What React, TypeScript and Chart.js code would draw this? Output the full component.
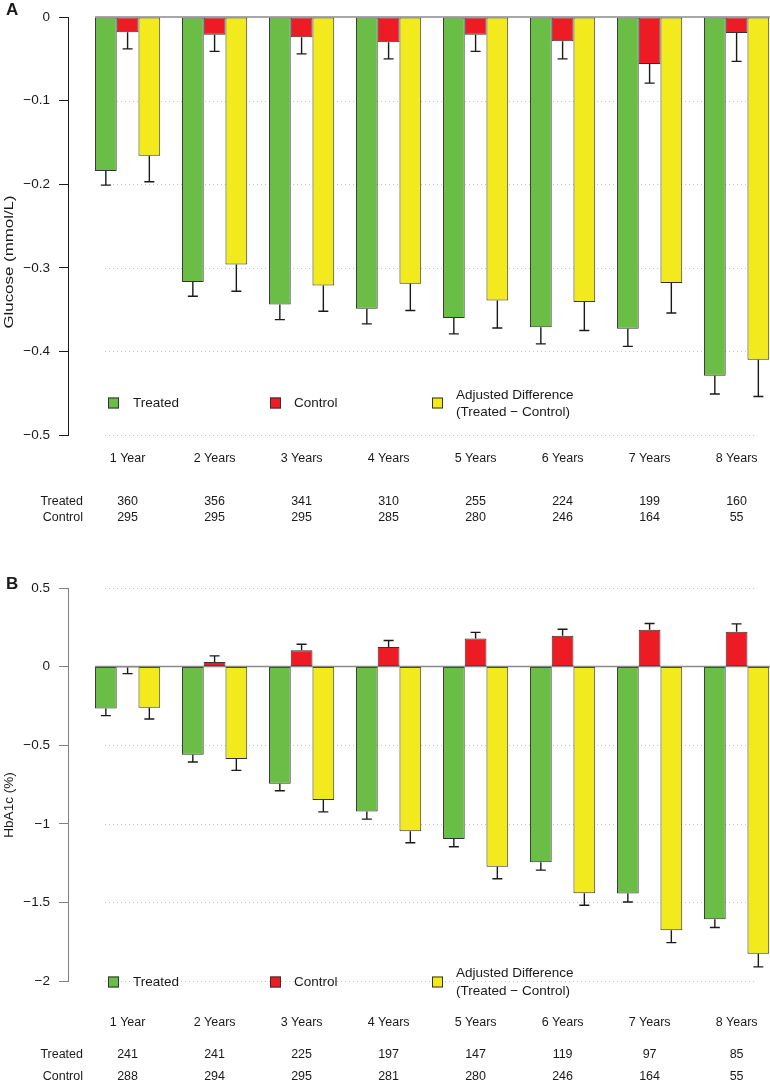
import React, { useEffect, useRef } from "react";
import { Chart, registerables } from "chart.js";

Chart.register(...registerables);

// ---------- data ----------
const categories = ["1 Year", "2 Years", "3 Years", "4 Years", "5 Years", "6 Years", "7 Years", "8 Years"];
const seriesNames = ["Treated", "Control", "Adjusted Difference", "(Treated \u2212 Control)"];

// Panel A: Glucose (mmol/L)
const glucoseTreated = [-0.184, -0.317, -0.344, -0.349, -0.36, -0.371, -0.373, -0.429];
const glucoseTreatedErr = [0.017, 0.017, 0.018, 0.018, 0.019, 0.02, 0.021, 0.022];
const glucoseControl = [-0.018, -0.021, -0.024, -0.03, -0.021, -0.029, -0.056, -0.019];
const glucoseControlErr = [0.02, 0.02, 0.02, 0.02, 0.02, 0.021, 0.023, 0.034];
const glucoseAdjusted = [-0.166, -0.296, -0.321, -0.319, -0.339, -0.341, -0.318, -0.41];
const glucoseAdjustedErr = [0.031, 0.032, 0.031, 0.032, 0.033, 0.034, 0.036, 0.044];
const glucoseTreatedN = [360, 356, 341, 310, 255, 224, 199, 160];
const glucoseControlN = [295, 295, 295, 285, 280, 246, 164, 55];
const glucoseGrid = [-0.1, -0.2, -0.3, -0.4, -0.5];

// Panel B: HbA1c (%)
const hba1cTreated = [-0.266, -0.56, -0.745, -0.921, -1.097, -1.244, -1.444, -1.607];
const hba1cTreatedErr = [0.046, 0.047, 0.045, 0.049, 0.049, 0.051, 0.053, 0.053];
const hba1cControl = [-0.005, 0.03, 0.104, 0.125, 0.178, 0.197, 0.234, 0.221];
const hba1cControlErr = [0.04, 0.038, 0.038, 0.041, 0.04, 0.041, 0.04, 0.051];
const hba1cAdjusted = [-0.261, -0.588, -0.849, -1.047, -1.274, -1.441, -1.677, -1.826];
const hba1cAdjustedErr = [0.072, 0.072, 0.075, 0.074, 0.076, 0.077, 0.079, 0.084];
const hba1cTreatedN = [241, 241, 225, 197, 147, 119, 97, 85];
const hba1cControlN = [288, 294, 295, 281, 280, 246, 164, 55];
const hba1cGrid = [0.5, -0.5, -1, -1.5, -2];

// ---------- style ----------
const FONT = "'Liberation Sans', Arial, Helvetica, sans-serif";
const GREEN = "#6ABD45";
const RED = "#ED1C24";
const YELLOW = "#F2EA1C";
const EDGE = "#333333";
const TEXT = "#1a1a1a";

type Panel = {
  letter: string;
  yTitle: string;
  treated: number[];
  treatedErr: number[];
  control: number[];
  controlErr: number[];
  adjusted: number[];
  adjustedErr: number[];
  treatedN: number[];
  controlN: number[];
  grid: number[];
  min: number;
  max: number;
  step: number;
  axisColor: string;
  height: number;
  padTop: number;
  padBottom: number;
  letterY: number;
  yTitleY: number;
  yTitleSize: number;
  yTitleStretch: number;
  legendY: number;
  legendLine1: number;
  legendLine2: number;
  catY: number;
  countY1: number;
  countY2: number;
};

const fmt = (v: any) => {
  const r = Math.round(Number(v) * 10) / 10;
  if (r === 0) return "0";
  return (r < 0 ? "\u2212" : "") + String(Math.abs(r));
};

function makeChart(canvas: HTMLCanvasElement, p: Panel) {
  const pts = (arr: number[]) => arr.map((v, i) => ({ x: i, y: v }));
  const common = {
    borderColor: EDGE,
    borderWidth: 1,
    borderSkipped: false as const,
    categoryPercentage: 0.75,
    barPercentage: 1,
  };
  const errs = [p.treatedErr, p.controlErr, p.adjustedErr];

  const overlay = {
    id: "overlay",
    beforeDatasetsDraw(chart: any) {
      const ctx = chart.ctx;
      const ys = chart.scales.y;
      ctx.save();
      ctx.strokeStyle = "#c4c4c4";
      ctx.lineWidth = 1;
      ctx.setLineDash([1, 3]);
      p.grid.forEach((g) => {
        const y = Math.round(ys.getPixelForValue(g)) + 0.5;
        ctx.beginPath();
        ctx.moveTo(105, y);
        ctx.lineTo(757, y);
        ctx.stroke();
      });
      ctx.restore();
    },
    afterDatasetsDraw(chart: any) {
      const ctx = chart.ctx;
      const ys = chart.scales.y;
      ctx.save();
      // zero line
      const first = chart.getDatasetMeta(0).data[0];
      const y0 = ys.getPixelForValue(0);
      ctx.strokeStyle = "#8a8a8a";
      ctx.lineWidth = 1.5;
      ctx.beginPath();
      ctx.moveTo(first.x - first.width / 2, y0);
      ctx.lineTo(chart.chartArea.right, y0);
      ctx.stroke();

      // error bars
      ctx.strokeStyle = "#1a1a1a";
      ctx.lineWidth = 1.4;
      [0, 1, 2].forEach((d) => {
        const meta = chart.getDatasetMeta(d);
        const vals = chart.data.datasets[d].data;
        meta.data.forEach((bar: any, i: number) => {
          const v = vals[i].y;
          const sign = v < 0 ? -1 : 1;
          const yv = ys.getPixelForValue(v);
          const ye = ys.getPixelForValue(v + sign * errs[d][i]);
          ctx.beginPath();
          ctx.moveTo(bar.x, yv);
          ctx.lineTo(bar.x, ye);
          ctx.moveTo(bar.x - 5, ye);
          ctx.lineTo(bar.x + 5, ye);
          ctx.stroke();
        });
      });

      // legend
      const sq = (x: number, y: number, c: string) => {
        ctx.fillStyle = c;
        ctx.fillRect(x, y - 5.5, 11, 11);
        ctx.strokeStyle = EDGE;
        ctx.lineWidth = 1;
        ctx.strokeRect(x + 0.5, y - 5, 10, 10);
      };
      ctx.font = `13.5px ${FONT}`;
      ctx.fillStyle = TEXT;
      ctx.textBaseline = "middle";
      ctx.textAlign = "left";
      sq(108, p.legendY, GREEN);
      ctx.fillStyle = TEXT;
      ctx.fillText(seriesNames[0], 133, p.legendY);
      sq(270, p.legendY, RED);
      ctx.fillStyle = TEXT;
      ctx.fillText(seriesNames[1], 294, p.legendY);
      sq(432, p.legendY, YELLOW);
      ctx.fillStyle = TEXT;
      ctx.fillText(seriesNames[2], 456, p.legendLine1);
      ctx.fillText(seriesNames[3], 456, p.legendLine2);

      // category labels and counts
      const meta1 = chart.getDatasetMeta(1);
      ctx.font = `12.5px ${FONT}`;
      ctx.textAlign = "center";
      meta1.data.forEach((bar: any, i: number) => {
        ctx.fillText(categories[i], bar.x, p.catY);
        ctx.fillText(String(p.treatedN[i]), bar.x, p.countY1);
        ctx.fillText(String(p.controlN[i]), bar.x, p.countY2);
      });
      ctx.textAlign = "right";
      ctx.fillText("Treated", 83, p.countY1);
      ctx.fillText("Control", 83, p.countY2);

      // y-axis title
      ctx.save();
      ctx.translate(9, p.yTitleY);
      ctx.rotate(-Math.PI / 2);
      ctx.scale(p.yTitleStretch, 1);
      ctx.textAlign = "center";
      ctx.font = `${p.yTitleSize}px ${FONT}`;
      ctx.fillText(p.yTitle, 0, 0);
      ctx.restore();

      // panel letter
      ctx.font = `bold 17px ${FONT}`;
      ctx.textAlign = "left";
      ctx.textBaseline = "alphabetic";
      ctx.fillText(p.letter, 6, p.letterY);
      ctx.restore();
    },
  };

  return new Chart(canvas, {
    type: "bar",
    data: {
      datasets: [
        { label: "Treated", data: pts(p.treated), backgroundColor: GREEN, ...common },
        { label: "Control", data: pts(p.control), backgroundColor: RED, ...common },
        { label: "Adjusted Difference", data: pts(p.adjusted), backgroundColor: YELLOW, ...common },
      ],
    },
    options: {
      responsive: false,
      animation: false,
      events: [],
      layout: { padding: { left: 0, right: 30, top: p.padTop, bottom: p.padBottom } },
      plugins: { legend: { display: false }, tooltip: { enabled: false } },
      scales: {
        x: { type: "linear", display: false, min: -0.685, max: 7.384, offset: false },
        y: {
          type: "linear",
          min: p.min,
          max: p.max,
          afterFit: (s: any) => {
            s.width = 68;
          },
          ticks: {
            stepSize: p.step,
            padding: 9,
            color: TEXT,
            font: { family: FONT, size: 13.5 },
            callback: fmt,
          },
          grid: { drawOnChartArea: false, drawTicks: true, tickLength: 9, color: p.axisColor, lineWidth: 1 },
          border: { display: true, color: p.axisColor, width: 1 },
        },
      },
    } as any,
    plugins: [overlay],
  });
}

const panelA: Panel = {
  letter: "A",
  yTitle: "Glucose (mmol/L)",
  treated: glucoseTreated,
  treatedErr: glucoseTreatedErr,
  control: glucoseControl,
  controlErr: glucoseControlErr,
  adjusted: glucoseAdjusted,
  adjustedErr: glucoseAdjustedErr,
  treatedN: glucoseTreatedN,
  controlN: glucoseControlN,
  grid: glucoseGrid,
  min: -0.5,
  max: 0,
  step: 0.1,
  axisColor: "#1a1a1a",
  height: 530,
  padTop: 15,
  padBottom: 95,
  letterY: 15,
  yTitleY: 262,
  yTitleSize: 13.5,
  yTitleStretch: 1.25,
  legendY: 403,
  legendLine1: 395,
  legendLine2: 412.5,
  catY: 459,
  countY1: 502,
  countY2: 518,
};

const panelB: Panel = {
  letter: "B",
  yTitle: "HbA1c (%)",
  treated: hba1cTreated,
  treatedErr: hba1cTreatedErr,
  control: hba1cControl,
  controlErr: hba1cControlErr,
  adjusted: hba1cAdjusted,
  adjustedErr: hba1cAdjustedErr,
  treatedN: hba1cTreatedN,
  controlN: hba1cControlN,
  grid: hba1cGrid,
  min: -2,
  max: 0.5,
  step: 0.5,
  axisColor: "#808080",
  height: 553,
  padTop: 58,
  padBottom: 102,
  letterY: 59,
  yTitleY: 275,
  yTitleSize: 13.5,
  yTitleStretch: 1,
  legendY: 452,
  legendLine1: 443,
  legendLine2: 461,
  catY: 493,
  countY1: 525,
  countY2: 547,
};

export default function App() {
  const refA = useRef<HTMLCanvasElement>(null);
  const refB = useRef<HTMLCanvasElement>(null);

  useEffect(() => {
    const a = makeChart(refA.current as HTMLCanvasElement, panelA);
    const b = makeChart(refB.current as HTMLCanvasElement, panelB);
    return () => {
      a.destroy();
      b.destroy();
    };
  }, []);

  return (
    <div
      style={{
        position: "absolute",
        left: 0,
        top: 0,
        width: 770,
        height: 1083,
        overflow: "hidden",
        background: "#ffffff",
      }}
    >
      <canvas ref={refA} width={800} height={530} style={{ position: "absolute", left: 0, top: 0, width: 800, height: 530 }} />
      <canvas ref={refB} width={800} height={553} style={{ position: "absolute", left: 0, top: 530, width: 800, height: 553 }} />
    </div>
  );
}
